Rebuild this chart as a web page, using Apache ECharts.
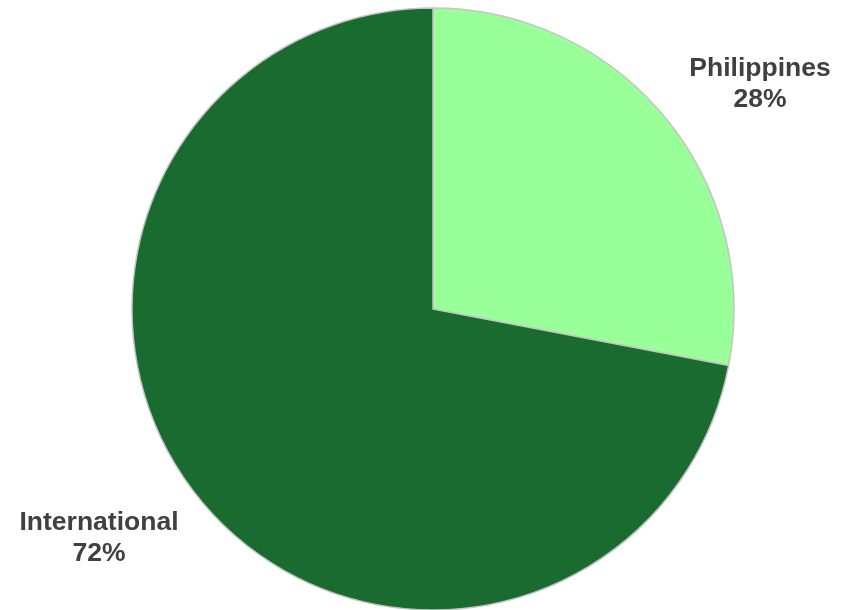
<!DOCTYPE html>
<html>
<head>
<meta charset="utf-8">
<script src="https://cdn.jsdelivr.net/npm/echarts@6/dist/echarts.min.js"></script>
<style>
  html, body { margin: 0; padding: 0; background: #ffffff; }
  #chart { width: 849px; height: 610px; }
</style>
</head>
<body>
<div id="chart"></div>
<script>
// Share of total by origin
const categories = ['Philippines', 'International'];
const shares = [28, 72];
const sliceColors = ['#99ff99', '#1a6b2f'];

// Where each slice's label block is centred on the page
const labelCentres = [[760, 84], [99, 538]];

const chart = echarts.init(document.getElementById('chart'), null, { renderer: 'canvas' });

chart.setOption({
  animation: false,
  backgroundColor: '#ffffff',
  series: [{
    type: 'pie',
    center: [433, 309],
    radius: 301,
    startAngle: 90,
    clockwise: true,
    avoidLabelOverlap: false,
    data: categories.map((name, i) => ({
      name: name,
      value: shares[i],
      itemStyle: { color: sliceColors[i] }
    })),
    itemStyle: { borderColor: '#c4c4c4', borderWidth: 1.5 },
    label: {
      show: true,
      position: 'outside',
      formatter: p => p.name + '\n' + Math.round(p.percent) + '%',
      fontFamily: 'Liberation Sans, Arial, sans-serif',
      fontWeight: 'bold',
      fontSize: 26.5,
      lineHeight: 31,
      color: '#404040',
      align: 'center'
    },
    labelLine: { show: false },
    labelLayout: params => ({
      x: labelCentres[params.dataIndex][0],
      y: labelCentres[params.dataIndex][1],
      align: 'center',
      verticalAlign: 'middle'
    }),
    emphasis: { disabled: true }
  }]
});
</script>
</body>
</html>
